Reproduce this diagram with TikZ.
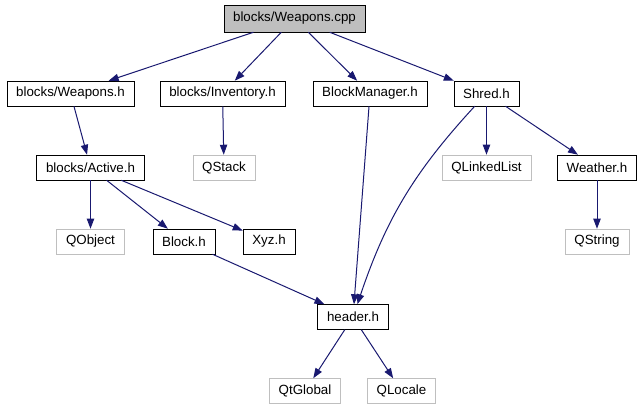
\documentclass[tikz,border=0pt]{standalone}
\usepackage{fontspec}
\setmainfont{Liberation Sans}
\usetikzlibrary{arrows.meta}
\definecolor{edgeblue}{HTML}{191970}
\definecolor{boxgray}{HTML}{BFBFBF}
\begin{document}
\begin{tikzpicture}[
x=0.75pt, y=-0.75pt,
every node/.style={draw, fill=white, minimum height=18.75pt, inner xsep=7pt, font=\fontsize{10}{12}\selectfont},
sysfile/.style={draw=boxgray},
root/.style={fill=boxgray, minimum height=20.25pt},
dep/.style={draw=edgeblue, line width=0.75pt, -{Triangle[length=7.5pt,width=5.5pt]}}
]
\useasboundingbox (0,0) rectangle (644,411);
\node (cpp) [root] at (294.5,18.5) {blocks/Weapons.cpp};
\node (weapons) at (70.5,93.5) {blocks/Weapons.h};
\node (inventory) at (222.5,93.5) {blocks/Inventory.h};
\node (manager) at (370,93.5) {BlockManager.h};
\node (shred) at (486.5,93.5) {Shred.h};
\node (active) at (90.5,167.5) {blocks/Active.h};
\node (qstack) [sysfile] at (224,167.5) {QStack};
\node (qlist) [sysfile] at (486.5,167.5) {QLinkedList};
\node (weather) at (597,167.5) {Weather.h};
\node (qobject) [sysfile] at (90.5,241.5) {QObject};
\node (block) at (184,241.5) {Block.h};
\node (xyz) at (269,241.5) {Xyz.h};
\node (qstring) [sysfile] at (597,241.5) {QString};
\node (header) at (353,317) {header.h};
\node (qtglobal) [sysfile] at (305,391) {QtGlobal};
\node (qlocale) [sysfile] at (401.5,391) {QLocale};
% includes
\draw[dep] (cpp) -- (weapons);
\draw[dep] (cpp) -- (inventory);
\draw[dep] (cpp) -- (manager);
\draw[dep] (cpp) -- (shred);
\draw[dep] (weapons) -- (active);
\draw[dep] (inventory) -- (qstack);
\draw[dep] (manager) -- (header);
\draw[dep] (shred) to[bend right=12] (header);
\draw[dep] (shred) -- (qlist);
\draw[dep] (shred) -- (weather);
\draw[dep] (active) -- (qobject);
\draw[dep] (active) -- (block);
\draw[dep] (active) -- (xyz);
\draw[dep] (weather) -- (qstring);
\draw[dep] (block) -- (header);
\draw[dep] (header) -- (qtglobal);
\draw[dep] (header) -- (qlocale);
\end{tikzpicture}
\end{document}
